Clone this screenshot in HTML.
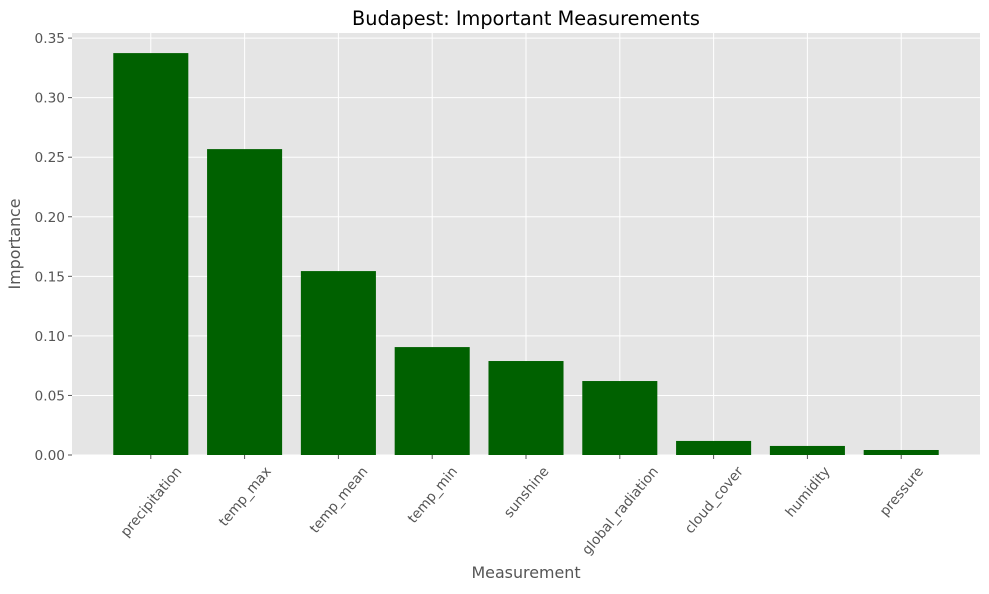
<!DOCTYPE html>
<html><head><meta charset="utf-8"><style>
body{margin:0;background:#fff;font-family:"DejaVu Sans","Liberation Sans",sans-serif}
</style></head><body>
<svg id="chart" width="989" height="590" xmlns="http://www.w3.org/2000/svg" font-family="DejaVu Sans, Liberation Sans, sans-serif">
<rect x="72" y="33" width="908" height="422" fill="#e5e5e5"/>
<g id="grid"></g><g id="bars"></g><g id="ticks"></g>
<text x="526" y="25" text-anchor="middle" font-size="19.3" fill="#000">Budapest: Important Measurements</text>
<text x="526" y="578" text-anchor="middle" font-size="15.9" fill="#555">Measurement</text>
<text x="20" y="244" text-anchor="middle" font-size="15.9" fill="#555" transform="rotate(-90 20 244)">Importance</text>
</svg>
<script>
const categories=["precipitation","temp_max","temp_mean","temp_min","sunshine","global_radiation","cloud_cover","humidity","pressure"];
const values=[0.3374,0.2568,0.1544,0.0906,0.0789,0.0621,0.0118,0.0076,0.0042];
const yTicks=[0,0.05,0.10,0.15,0.20,0.25,0.30,0.35];
const yTickLabels=["0.00","0.05","0.10","0.15","0.20","0.25","0.30","0.35"];
const NS="http://www.w3.org/2000/svg";
const L=72,R=980,B=455,T=33;
const FS=13.7;
const yMax=Math.max(...values)*1.05;
const y=v=>B-(v/yMax)*(B-T);
const xmin=-0.84,xmax=categories.length-1+0.84;
const x=i=>L+(i-xmin)/(xmax-xmin)*(R-L);
const bw=0.8*(R-L)/(xmax-xmin);
function mk(t,a,p){const e=document.createElementNS(NS,t);for(const k in a)e.setAttribute(k,a[k]);p.appendChild(e);return e;}
const grid=document.getElementById('grid'),bars=document.getElementById('bars'),ticks=document.getElementById('ticks');
yTicks.forEach((v,i)=>{
 const g=mk('line',{x1:L,x2:R,y1:y(v),y2:y(v),stroke:'#fff','stroke-width':1},grid);
 
 
 mk('line',{x1:L-4,x2:L,y1:y(v),y2:y(v),stroke:'#555'},ticks);
 const t=mk('text',{x:L-7,y:y(v)+5,'text-anchor':'end','font-size':FS,fill:'#555'},ticks);
 t.textContent=yTickLabels[i];
 
 
});
const s=Math.sin(50*Math.PI/180),c5=Math.cos(50*Math.PI/180);
categories.forEach((c,i)=>{
 const g=mk('line',{x1:x(i),x2:x(i),y1:T,y2:B,stroke:'#fff','stroke-width':1},grid);
 
 
 const r=mk('rect',{x:x(i)-bw/2,y:y(values[i]),width:bw,height:B-y(values[i]),fill:'#006100'},bars);
 
 
 mk('line',{x1:x(i),x2:x(i),y1:B,y2:B+4,stroke:'#555'},ticks);
 const t=mk('text',{x:0,y:0,'text-anchor':'middle','font-size':FS,fill:'#555'},ticks);
 t.textContent=c;
 
 
 const w=t.getComputedTextLength();
 const cy=B+9+(w*s+FS*c5)/2, cx=x(i);
 t.setAttribute('x',cx);
 t.setAttribute('y',cy+FS*0.36);
 t.setAttribute('transform',`rotate(-50 ${cx} ${cy})`);
});
</script>
</body></html>
